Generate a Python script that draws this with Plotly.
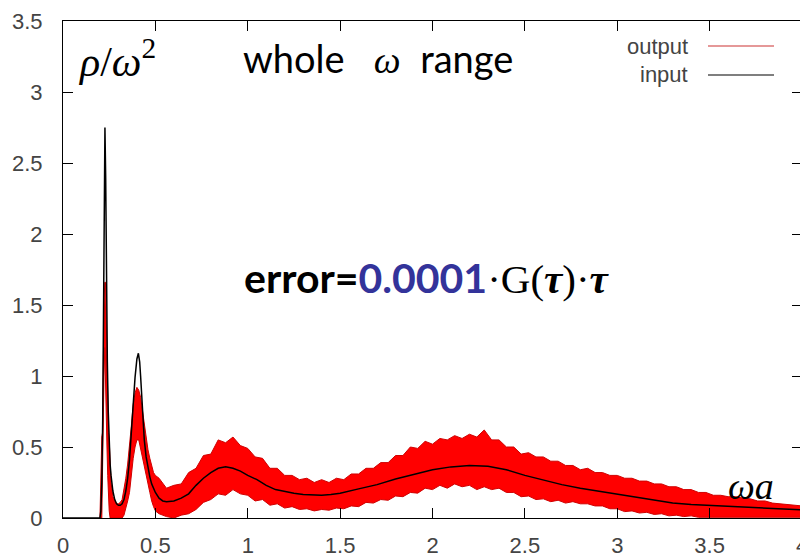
import plotly.graph_objects as go

# ---- input (black) curve ----
x_in = [0.0, 0.20, 0.205, 0.21, 0.215, 0.22, 0.224, 0.227, 0.231, 0.235, 0.24, 0.245, 0.25, 0.255,
        0.26, 0.27, 0.28, 0.29, 0.30, 0.31, 0.32, 0.33, 0.34, 0.35, 0.36, 0.37, 0.38, 0.39, 0.40,
        0.408, 0.415, 0.42, 0.43, 0.44, 0.45, 0.46, 0.47, 0.48, 0.50, 0.52, 0.54, 0.56, 0.60, 0.64,
        0.68, 0.72, 0.76, 0.80, 0.84, 0.88, 0.92, 0.96, 1.00, 1.05, 1.10, 1.15, 1.20, 1.25, 1.30,
        1.35, 1.40, 1.45, 1.50, 1.60, 1.70, 1.80, 1.90, 2.00, 2.10, 2.20, 2.30, 2.40, 2.50, 2.60,
        2.70, 2.80, 2.90, 3.00, 3.10, 3.20, 3.30, 3.40, 3.50, 3.60, 3.70, 3.80, 3.90, 4.00]
y_in = [0.0, 0.0, 0.05, 0.25, 0.7, 1.6, 2.4, 2.75, 2.4, 1.7, 1.1, 0.75, 0.52, 0.38,
        0.30, 0.19, 0.13, 0.10, 0.09, 0.09, 0.10, 0.13, 0.19, 0.28, 0.41, 0.58, 0.80, 0.99, 1.12,
        1.16, 1.10, 1.00, 0.72, 0.55, 0.43, 0.35, 0.29, 0.24, 0.18, 0.14, 0.12, 0.115, 0.12, 0.14,
        0.17, 0.23, 0.28, 0.32, 0.35, 0.36, 0.35, 0.33, 0.30, 0.27, 0.23, 0.20, 0.185, 0.175, 0.165,
        0.16, 0.16, 0.165, 0.175, 0.205, 0.235, 0.275, 0.31, 0.34, 0.36, 0.37, 0.365, 0.34, 0.30, 0.265,
        0.235, 0.21, 0.19, 0.17, 0.145, 0.125, 0.105, 0.095, 0.088, 0.08, 0.075, 0.068, 0.062, 0.057]

# ---- output (red, noisy) band: upper and lower envelopes ----
x_out = [0.200, 0.205, 0.210, 0.214, 0.218, 0.222, 0.226, 0.230, 0.234, 0.238, 0.242, 0.246, 0.250,
         0.255, 0.26, 0.27, 0.28, 0.29, 0.30, 0.31, 0.32, 0.33, 0.34, 0.35, 0.36, 0.37, 0.38, 0.39,
         0.40, 0.41, 0.42, 0.43, 0.44, 0.45, 0.46, 0.47, 0.48, 0.49, 0.50,
         0.52, 0.56, 0.60, 0.64, 0.68, 0.72, 0.76, 0.80, 0.84, 0.88, 0.92, 0.96, 1.00, 1.04, 1.08,
         1.12, 1.16, 1.20, 1.24, 1.28, 1.32, 1.36, 1.40, 1.44, 1.48, 1.52, 1.56, 1.60, 1.64, 1.68,
         1.72, 1.76, 1.80, 1.84, 1.88, 1.92, 1.96, 2.00, 2.04, 2.08, 2.12, 2.16, 2.20, 2.24, 2.28,
         2.32, 2.36, 2.40, 2.44, 2.48, 2.52, 2.56, 2.60, 2.64, 2.68, 2.72, 2.76, 2.80, 2.84, 2.88,
         2.92, 2.96, 3.00, 3.04, 3.08, 3.12, 3.16, 3.20, 3.24, 3.28, 3.32, 3.36, 3.40, 3.44, 3.48,
         3.52, 3.56, 3.60, 3.64, 3.68, 3.72, 3.76, 3.80, 3.84, 3.88, 3.92, 3.96, 4.00]
y_out_hi = [0.0, 0.35, 0.57, 0.60, 1.20, 1.50, 1.66, 1.66, 1.40, 1.10, 0.80, 0.60, 0.55,
            0.40, 0.25, 0.15, 0.12, 0.10, 0.10, 0.11, 0.13, 0.20, 0.28, 0.38, 0.50, 0.65, 0.80, 0.88,
            0.92, 0.90, 0.85, 0.75, 0.65, 0.55, 0.48, 0.42, 0.36, 0.32, 0.30,
            0.28, 0.21, 0.23, 0.24, 0.32, 0.35, 0.44, 0.45, 0.55, 0.53, 0.57, 0.51, 0.49, 0.43, 0.42,
            0.35, 0.35, 0.30, 0.30, 0.27, 0.28, 0.25, 0.27, 0.25, 0.28, 0.27, 0.31, 0.31, 0.35, 0.35,
            0.39, 0.39, 0.44, 0.44, 0.50, 0.49, 0.54, 0.52, 0.56, 0.55, 0.58, 0.56, 0.59, 0.57, 0.62,
            0.55, 0.55, 0.50, 0.50, 0.45, 0.46, 0.43, 0.43, 0.40, 0.40, 0.37, 0.37, 0.34, 0.35, 0.32,
            0.32, 0.30, 0.30, 0.28, 0.28, 0.26, 0.26, 0.24, 0.24, 0.22, 0.22, 0.20, 0.20, 0.18, 0.18,
            0.16, 0.16, 0.15, 0.15, 0.14, 0.135, 0.12, 0.12, 0.105, 0.10, 0.095, 0.09, 0.085]
y_out_lo = [0.0, 0.0, 0.0, 0.10, 0.60, 1.00, 1.20, 1.10, 0.80, 0.50, 0.30, 0.15, 0.05,
            0.0, 0.0, 0.0, 0.0, 0.0, 0.0, 0.0, 0.0, 0.02, 0.06, 0.12, 0.18, 0.30, 0.42, 0.50,
            0.55, 0.55, 0.50, 0.42, 0.36, 0.30, 0.24, 0.18, 0.12, 0.08, 0.05,
            0.03, 0.01, 0.0, 0.02, 0.03, 0.06, 0.11, 0.13, 0.17, 0.16, 0.20, 0.17, 0.16, 0.12, 0.13,
            0.09, 0.10, 0.07, 0.08, 0.06, 0.065, 0.05, 0.06, 0.055, 0.07, 0.065, 0.085, 0.08, 0.11, 0.105,
            0.13, 0.125, 0.155, 0.15, 0.18, 0.175, 0.21, 0.20, 0.23, 0.21, 0.24, 0.22, 0.23, 0.20, 0.22,
            0.20, 0.21, 0.18, 0.18, 0.15, 0.155, 0.13, 0.135, 0.115, 0.125, 0.105, 0.115, 0.10, 0.10, 0.085,
            0.085, 0.065, 0.065, 0.045, 0.05, 0.035, 0.04, 0.025, 0.03, 0.015, 0.02, 0.01, 0.015, 0.005, 0.01,
            0.005, 0.01, 0.005, 0.008, 0.005, 0.005, 0.005, 0.005, 0.005, 0.005, 0.005, 0.005, 0.005]

x_ticks = [0, 0.5, 1, 1.5, 2, 2.5, 3, 3.5, 4]
y_ticks = [0, 0.5, 1, 1.5, 2, 2.5, 3, 3.5]

fig = go.Figure()
fig.add_trace(go.Scatter(
    x=x_out + x_out[::-1], y=y_out_hi + y_out_lo[::-1],
    fill="toself", fillcolor="#ff0000", mode="lines",
    line=dict(color="#d00000", width=1), name="output", showlegend=False,
    hoverinfo="skip"))
fig.add_trace(go.Scatter(
    x=x_in, y=y_in, mode="lines", line=dict(color="black", width=1.5),
    name="input", showlegend=False))

# page has an 8px body margin: figure is 800x551 so that the plot area sits at
# page pixels x 63..802, y 21..518
OFF = 8
W, H = 800, 551
L, R, T, B = 55, 6, 13, 41
pw, ph = W - L - R, H - T - B


def px(xpage):
    return (xpage - OFF - L) / pw


def py(ypage):
    return (H - B - (ypage - OFF)) / ph


tickfont = dict(family="Liberation Sans", size=22, color="#444444")
common = dict(showgrid=False, zeroline=False, showline=True, linecolor="black", linewidth=1,
              mirror="ticks", ticks="inside", ticklen=10, tickcolor="black", tickwidth=1,
              tickfont=tickfont, automargin=False, ticklabeloverflow="allow")
fig.update_xaxes(range=[0, 4], tickvals=x_ticks, ticktext=[f"{v:g}" for v in x_ticks],
                 ticklabelstandoff=8, **common)
fig.update_yaxes(range=[0, 3.5], tickvals=y_ticks, ticktext=[f"{v:g}" for v in y_ticks],
                 ticklabelstandoff=15, **common)

serif = "Liberation Serif"


def note(x, y, text, font, xanchor="center"):
    return dict(x=px(x), y=py(y), xref="paper", yref="paper", showarrow=False,
                xanchor=xanchor, yanchor="middle", text=text, font=font)


ann = [
    note(117, 59, "<i>ρ</i>/<i>ω</i><sup>2</sup>", dict(family=serif, size=42, color="black")),
    note(378, 58, "whole\u00a0\u00a0\u00a0<span style='font-family:Liberation Serif'><i>ω</i></span>"
                  "\u00a0\u00a0range", dict(family="Lato", size=38, color="black")),
    note(242, 277, "<b>error=</b><b><span style='color:#33339a'>0.0001</span></b>"
                   "<span style='font-family:Liberation Serif'>·G(<b><i>τ</i></b>)·<b><i>τ</i></b></span>",
         dict(family="Lato", size=41, color="black"), xanchor="left"),
    note(751, 486, "<i>ωa</i>", dict(family=serif, size=38, color="black")),
    note(690, 46, "output", dict(family="Liberation Sans", size=22, color="#444444"), xanchor="right"),
    note(690, 74, "input", dict(family="Liberation Sans", size=22, color="#444444"), xanchor="right"),
]

shapes = [
    dict(type="line", xref="paper", yref="paper", x0=px(708), x1=px(774), y0=py(46), y1=py(46),
         line=dict(color="#cc3333", width=1.2)),
    dict(type="line", xref="paper", yref="paper", x0=px(708), x1=px(774), y0=py(75), y1=py(75),
         line=dict(color="black", width=1.2)),
]

fig.update_layout(width=W, height=H, margin=dict(l=L, r=R, t=T, b=B),
                  paper_bgcolor="white", plot_bgcolor="white",
                  annotations=ann, shapes=shapes, showlegend=False)

fig.write_html("out.html")
